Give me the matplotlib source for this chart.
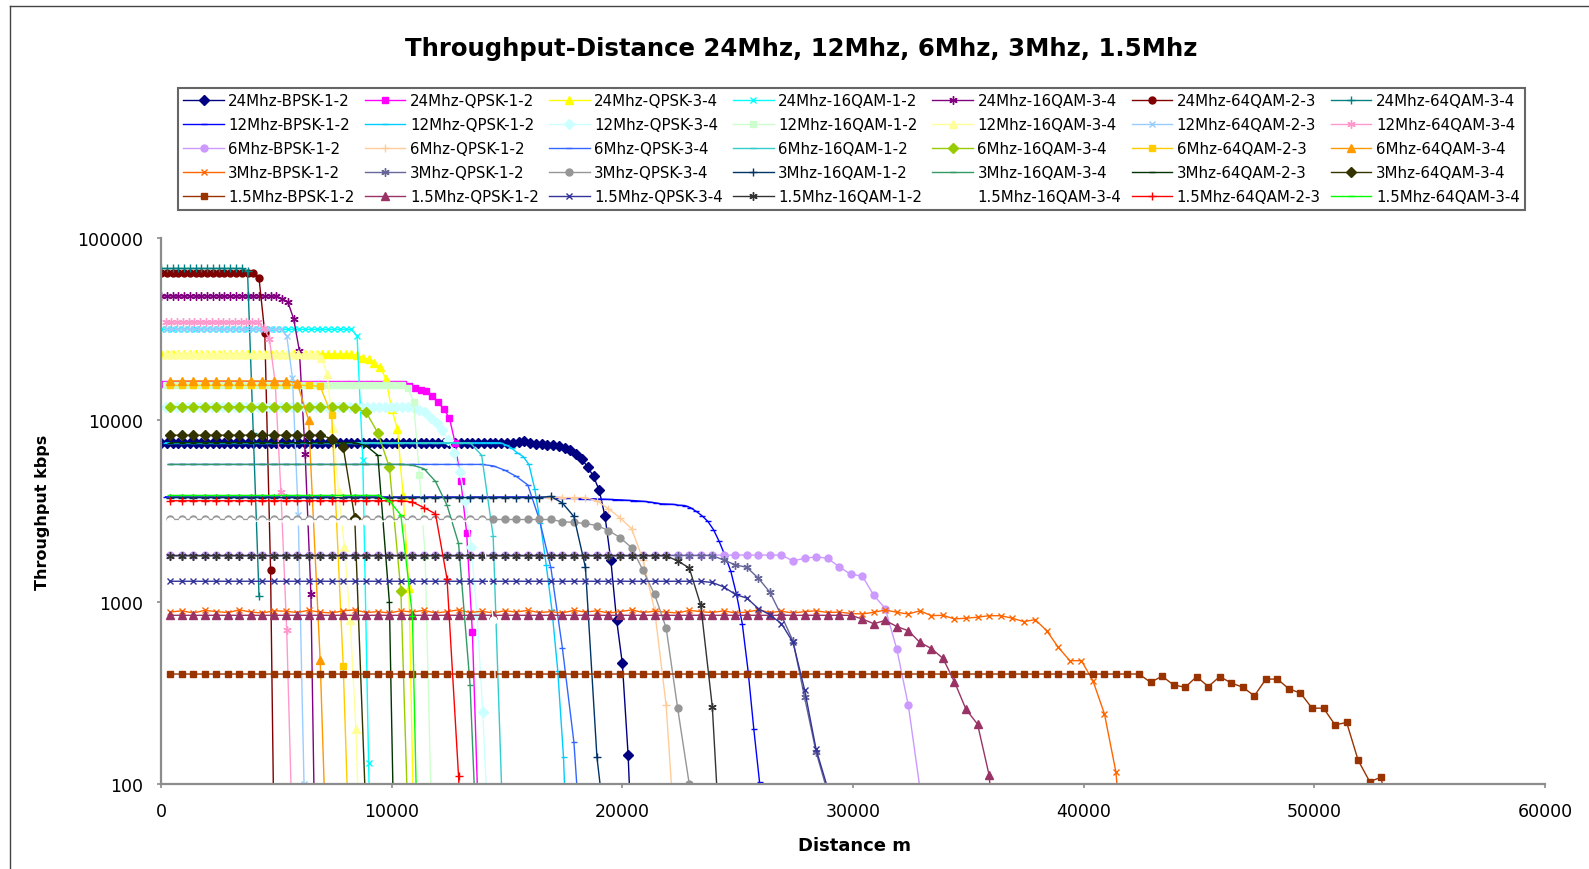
import numpy as np
import matplotlib
matplotlib.use("Agg")
import matplotlib.pyplot as plt
from matplotlib.lines import Line2D
from matplotlib.ticker import NullLocator

# ---------------- data ----------------
TITLE = "Throughput-Distance 24Mhz, 12Mhz, 6Mhz, 3Mhz, 1.5Mhz"
X_LABEL = "Distance m"
Y_LABEL = "Throughput kbps"
X_TICKS = [0, 10000, 20000, 30000, 40000, 50000, 60000]
Y_TICKS = [100, 1000, 10000, 100000]

# distance sampling per bandwidth (first distance, distance step), metres
BAND_START = {"24Mhz": 0, "12Mhz": 200, "6Mhz": 400, "3Mhz": 400, "1.5Mhz": 400}
BAND_STEP = {"24Mhz": 250, "12Mhz": 250, "6Mhz": 500, "3Mhz": 500, "1.5Mhz": 500}

LABELS = [
    "24Mhz-BPSK-1-2", "24Mhz-QPSK-1-2", "24Mhz-QPSK-3-4", "24Mhz-16QAM-1-2",
    "24Mhz-16QAM-3-4", "24Mhz-64QAM-2-3", "24Mhz-64QAM-3-4",
    "12Mhz-BPSK-1-2", "12Mhz-QPSK-1-2", "12Mhz-QPSK-3-4", "12Mhz-16QAM-1-2",
    "12Mhz-16QAM-3-4", "12Mhz-64QAM-2-3", "12Mhz-64QAM-3-4",
    "6Mhz-BPSK-1-2", "6Mhz-QPSK-1-2", "6Mhz-QPSK-3-4", "6Mhz-16QAM-1-2",
    "6Mhz-16QAM-3-4", "6Mhz-64QAM-2-3", "6Mhz-64QAM-3-4",
    "3Mhz-BPSK-1-2", "3Mhz-QPSK-1-2", "3Mhz-QPSK-3-4", "3Mhz-16QAM-1-2",
    "3Mhz-16QAM-3-4", "3Mhz-64QAM-2-3", "3Mhz-64QAM-3-4",
    "1.5Mhz-BPSK-1-2", "1.5Mhz-QPSK-1-2", "1.5Mhz-QPSK-3-4", "1.5Mhz-16QAM-1-2",
    "1.5Mhz-16QAM-3-4", "1.5Mhz-64QAM-2-3", "1.5Mhz-64QAM-3-4",
]

# throughput (kbps) at successive distances of each series
y24_bpsk12 = [7500] * 61 + [7500, 7600, 7650, 7500, 7400, 7350, 7300, 7300, 7200, 7000, 6850,
                            6500, 6100, 5500, 4900, 4100, 2950, 1700, 800, 460, 145, 25]
y24_qpsk12 = [15700] * 43 + [15400, 15000, 14700, 14400, 13600, 12600, 11500, 10300, 7500,
                             4600, 2400, 680, 70]
y24_qpsk34 = [23000] * 34 + [22700, 22000, 21600, 20600, 19600, 16800, 11500, 8900, 3800, 1200, 30]
y24_16qam12 = [31500] * 34 + [29000, 6000, 130, 5]
y24_16qam34 = [48000] * 21 + [46500, 44500, 36000, 24000, 6500, 1100, 10]
y24_64qam23 = [64000] * 17 + [60000, 30000, 1500, 5]
y24_64qam34 = [68000] * 15 + [66000, 8500, 1080]

y12_bpsk12 = [3780] * 65 + [3770, 3760, 3750, 3750, 3740, 3730, 3720, 3700, 3700, 3690,
                            3680, 3670, 3660, 3650, 3640, 3620, 3610, 3590, 3570, 3540,
                            3500, 3460, 3450, 3440, 3400, 3390, 3300, 3150, 2980, 2780,
                            2500, 2150, 1800, 1480, 1100, 760, 420, 200, 102, 15]
y12_qpsk12 = [7500] * 59 + [7300, 7000, 6600, 6300, 5700, 4200, 2700, 1600, 900, 420, 140, 20]
y12_qpsk34 = [11800] * 43 + [11700, 11400, 11000, 10300, 9600, 8800, 7800, 6600, 5200, 3600,
                             2000, 850, 250, 50]
y12_16qam12 = [15500] * 42 + [15000, 12600, 5000, 1800, 90, 5]
y12_16qam34 = [23000] * 27 + [22000, 18000, 9000, 4000, 2000, 800, 200, 20]
y12_64qam23 = [31500] * 21 + [29000, 17000, 3000, 100, 5]
y12_64qam34 = [34500] * 17 + [32000, 28000, 16000, 4000, 700, 50]

y6_bpsk12 = [1810] * 54 + [1680, 1740, 1770, 1740, 1560, 1420, 1390, 1090, 920, 550, 270, 95, 20]
y6_qpsk12 = [3750] * 37 + [3600, 3250, 2900, 2530, 1700, 900, 270, 30]
y6_qpsk34 = [5700] * 28 + [5600, 5300, 4900, 4400, 2850, 1550, 560, 170, 20]
y6_16qam12 = [7500] * 27 + [6400, 2300, 30]
y6_16qam34 = [11800] * 16 + [11700, 11000, 8500, 5500, 1150, 10]
y6_64qam23 = [15500] * 13 + [15300, 10600, 445, 5]
y6_64qam34 = [16400] * 11 + [16000, 10000, 480, 5]

y3_bpsk12 = [880, 895, 870, 900, 885, 875, 905, 880, 870, 895, 890, 875, 900, 880, 870,
             895, 905, 875, 885, 870, 895, 880, 900, 870, 885, 905, 875, 890, 870, 895,
             880, 900, 875, 885, 870, 900, 880, 895, 870, 885, 905, 875, 890, 880, 870,
             900, 885, 875, 895, 870, 880, 905, 875, 890, 870, 885, 895, 875, 880, 865,
             859, 878, 903, 878, 859, 895, 841, 845, 807, 815, 825, 841, 841, 815, 780,
             800, 695, 563, 476, 476, 370, 243, 116, 20]
y3_qpsk12 = [1800] * 48 + [1700, 1600, 1550, 1350, 1130, 840, 610, 300, 150, 90]
y3_qpsk34 = [2840] * 34 + [2760, 2740, 2700, 2630, 2470, 2260, 1990, 1490, 1100, 720, 260, 100, 20]
y3_16qam12 = [3750] * 33 + [3800, 3500, 2950, 1550, 140, 40]
y3_16qam34 = [5700] * 21 + [5650, 5400, 4600, 3400, 2100, 350, 10]
y3_64qam23 = [7500] * 17 + [7200, 6400, 1000, 0.5]
y3_64qam34 = [8250] * 14 + [7900, 7100, 2900, 60]

y15_bpsk12 = [402] * 85 + [362, 391, 350, 340, 389, 343, 389, 359, 340, 305, 377, 377, 333,
                           316, 261, 261, 211, 218, 135, 103, 109, 40]
y15_qpsk12 = [845] * 60 + [807, 760, 792, 733, 695, 600, 555, 490, 364, 257, 213, 112, 20]
y15_qpsk34 = [1300] * 47 + [1280, 1210, 1100, 1050, 920, 850, 760, 600, 330, 155, 95, 20]
y15_16qam12 = [1795] * 44 + [1680, 1540, 960, 266, 20]
y15_16qam34 = [2780] * 28 + [800, 10]
y15_64qam23 = [3600] * 21 + [3540, 3300, 3050, 1340, 110, 5]
y15_64qam34 = [3850] * 19 + [3600, 3000, 840, 1]

SERIES_Y = [
    y24_bpsk12, y24_qpsk12, y24_qpsk34, y24_16qam12, y24_16qam34, y24_64qam23, y24_64qam34,
    y12_bpsk12, y12_qpsk12, y12_qpsk34, y12_16qam12, y12_16qam34, y12_64qam23, y12_64qam34,
    y6_bpsk12, y6_qpsk12, y6_qpsk34, y6_16qam12, y6_16qam34, y6_64qam23, y6_64qam34,
    y3_bpsk12, y3_qpsk12, y3_qpsk34, y3_16qam12, y3_16qam34, y3_64qam23, y3_64qam34,
    y15_bpsk12, y15_qpsk12, y15_qpsk34, y15_16qam12, y15_16qam34, y15_64qam23, y15_64qam34,
]

# ---------------- styles ----------------
COLORS = [
    "#000080", "#FF00FF", "#FFFF00", "#00FFFF", "#800080", "#800000", "#008080",
    "#0000FF", "#00CCFF", "#CCFFFF", "#CCFFCC", "#FFFF99", "#99CCFF", "#FF99CC",
    "#CC99FF", "#FFCC99", "#3366FF", "#33CCCC", "#99CC00", "#FFCC00", "#FF9900",
    "#FF6600", "#666699", "#969696", "#003366", "#339966", "#003300", "#333300",
    "#993300", "#993366", "#333399", "#333333", "#FFFFFF", "#FF0000", "#00FF00",
]
AST = (6, 2, 0)
MARKERS = ["D", "s", "^", "x", AST, "o", "+", "_", "_"] * 3 + ["D", "s", "^", "x", AST, "o", "+", "_"]
MSIZE = {"D": 5.0, "s": 5.0, "^": 5.5, "x": 5.0, "o": 5.0, "+": 6.0, "_": 5.0}

plt.rcParams["font.family"] = ["DejaVu Sans"]

fig = plt.figure(figsize=(15.89, 8.70), dpi=100)
W, H = 1589.0, 870.0
ax = fig.add_axes([161 / W, 1 - 785 / H, (1545 - 161) / W, (785 - 239) / H])

for lab, yv, col, mk in zip(LABELS, SERIES_Y, COLORS, MARKERS):
    band = lab.split("-")[0]
    xv = BAND_START[band] + BAND_STEP[band] * np.arange(len(yv))
    ms = 6.0 if mk == AST else MSIZE[mk]
    ax.plot(xv, yv, color=col, lw=1.0, marker=mk, ms=ms, mfc=col, mec=col,
            mew=1.0, label=lab)

ax.set_yscale("log")
ax.set_xlim(0, 60000)
ax.set_ylim(100, 100000)
ax.set_xticks(X_TICKS)
ax.set_xticklabels([str(v) for v in X_TICKS])
ax.set_yticks(Y_TICKS)
ax.set_yticklabels([str(v) for v in Y_TICKS])
ax.yaxis.set_minor_locator(NullLocator())
ax.xaxis.set_minor_locator(NullLocator())
for s in ("top", "right"):
    ax.spines[s].set_visible(False)
for s in ("left", "bottom"):
    ax.spines[s].set_color("#8c8c8c")
    ax.spines[s].set_linewidth(1.6)
ax.tick_params(direction="out", length=3, width=1.2, color="#8c8c8c",
               labelsize=12.5, pad=10)

ax.set_xlabel(X_LABEL, fontsize=13, fontweight="bold")
ax.xaxis.set_label_coords(0.501, -0.095)
ax.set_ylabel(Y_LABEL, fontsize=11.5, fontweight="bold")
ax.yaxis.set_label_coords(-0.080, 0.5)

fig.text(801 / W, 1 - 49 / H, TITLE, ha="center", va="center",
         fontsize=17.6, fontweight="bold")

handles, labels = ax.get_legend_handles_labels()
order = [r * 7 + c for c in range(7) for r in range(5)]
leg = fig.legend([handles[i] for i in order], [labels[i] for i in order],
                 ncol=7, loc="upper left", mode="expand",
                 bbox_to_anchor=(178 / W, 1 - 209 / H, 1347 / W, 120 / H),
                 fontsize=10.8, handlelength=2.7, handletextpad=0.3,
                 labelspacing=0.6, borderpad=0.35, borderaxespad=0.0,
                 fancybox=False, framealpha=1.0)
leg.get_frame().set_edgecolor("#666666")
leg.get_frame().set_linewidth(1.5)

# chart-area border
fig.add_artist(Line2D([10 / W, 10 / W], [0, 1 - 7 / H], transform=fig.transFigure,
                      color="#444444", lw=1.0))
fig.add_artist(Line2D([10 / W, 1.0], [1 - 7 / H, 1 - 7 / H], transform=fig.transFigure,
                      color="#444444", lw=1.0))

fig.savefig("out.png", dpi=100)
